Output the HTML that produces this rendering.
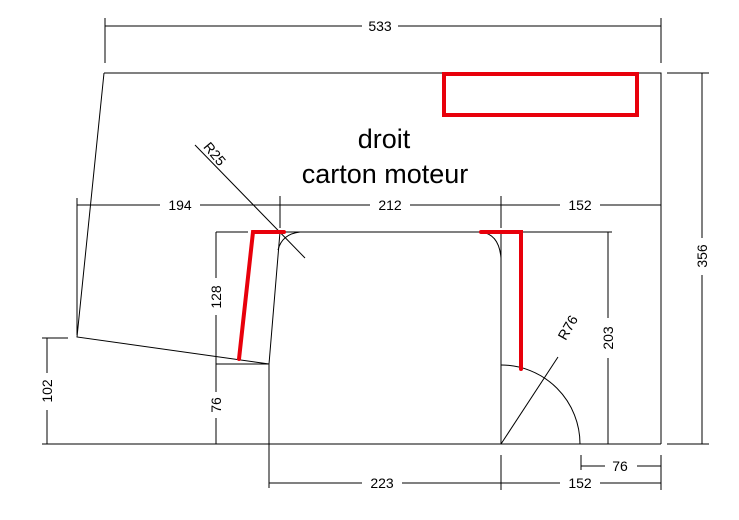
<!DOCTYPE html>
<html><head><meta charset="utf-8"><style>
html,body{margin:0;padding:0;background:#fff}
svg{display:block}
text{font-family:"Liberation Sans",sans-serif;fill:#000}
.d{font-size:14px}
</style></head><body>
<svg width="739" height="520" viewBox="0 0 739 520" xmlns="http://www.w3.org/2000/svg">
<g stroke="#000" stroke-width="1" fill="none">
<polyline points="104,73 661,73 661,444"/>
<polyline points="104,73 77,337 269,364 280,232 612,232"/>
<line x1="42" y1="444" x2="661" y2="444"/>
<line x1="501" y1="232" x2="501" y2="444"/>
<line x1="269" y1="364" x2="269" y2="488"/>
<path d="M278,250 Q282,234 300,232"/>
<path d="M481,232 Q499,234 501,258"/>
<path d="M501,365 A79,79 0 0 1 580,444"/>
<line x1="501" y1="444" x2="558" y2="357"/>
<line x1="195" y1="145" x2="305" y2="258"/>
<line x1="105" y1="18" x2="105" y2="63"/>
<line x1="661" y1="18" x2="661" y2="63"/>
<line x1="105" y1="26" x2="362" y2="26"/>
<line x1="398" y1="26" x2="661" y2="26"/>
<line x1="77" y1="198" x2="77" y2="335"/>
<line x1="280" y1="196" x2="280" y2="228"/>
<line x1="501" y1="196" x2="501" y2="228"/>
<line x1="77" y1="205" x2="160" y2="205"/>
<line x1="200" y1="205" x2="370" y2="205"/>
<line x1="410" y1="205" x2="560" y2="205"/>
<line x1="600" y1="205" x2="661" y2="205"/>
<line x1="667" y1="73" x2="709" y2="73"/>
<line x1="667" y1="444" x2="709" y2="444"/>
<line x1="702" y1="73" x2="702" y2="238"/>
<line x1="702" y1="275" x2="702" y2="444"/>
<line x1="608" y1="232" x2="608" y2="318"/>
<line x1="608" y1="358" x2="608" y2="444"/>
<line x1="216" y1="232" x2="248" y2="232"/>
<line x1="216" y1="364" x2="268" y2="364"/>
<line x1="216" y1="232" x2="216" y2="278"/>
<line x1="216" y1="315" x2="216" y2="392"/>
<line x1="216" y1="418" x2="216" y2="444"/>
<line x1="42" y1="338" x2="68" y2="338"/>
<line x1="47" y1="338" x2="47" y2="373"/>
<line x1="47" y1="410" x2="47" y2="444"/>
<line x1="501" y1="455" x2="501" y2="490"/>
<line x1="661" y1="455" x2="661" y2="490"/>
<line x1="581" y1="455" x2="581" y2="470"/>
<line x1="269" y1="483" x2="362" y2="483"/>
<line x1="402" y1="483" x2="560" y2="483"/>
<line x1="600" y1="483" x2="661" y2="483"/>
<line x1="581" y1="466" x2="605" y2="466"/>
<line x1="637" y1="466" x2="661" y2="466"/>
</g>
<g stroke="#e8000b" stroke-width="4" fill="none" stroke-linecap="round">
<rect x="444" y="74" width="193" height="41"/>
<polyline points="239,359 253,232 284,232"/>
<polyline points="481,232 521,232 521,369"/>
</g>
<text x="384" y="148" font-size="27" text-anchor="middle">droit</text>
<text x="385" y="183" font-size="27" text-anchor="middle">carton moteur</text>
<g class="d" text-anchor="middle">
<text x="380" y="31">533</text>
<text x="180" y="210">194</text>
<text x="390" y="210">212</text>
<text x="580" y="210">152</text>
<text x="382" y="488">223</text>
<text x="580" y="488">152</text>
<text x="620" y="471">76</text>
<text transform="translate(707,256) rotate(-90)">356</text>
<text transform="translate(613,338) rotate(-90)">203</text>
<text transform="translate(221,297) rotate(-90)">128</text>
<text transform="translate(221,405) rotate(-90)">76</text>
<text transform="translate(52,391) rotate(-90)">102</text>
<text transform="translate(211,157) rotate(50)">R25</text>
<text transform="translate(572,330) rotate(-60)">R76</text>
</g>
</svg>
</body></html>
